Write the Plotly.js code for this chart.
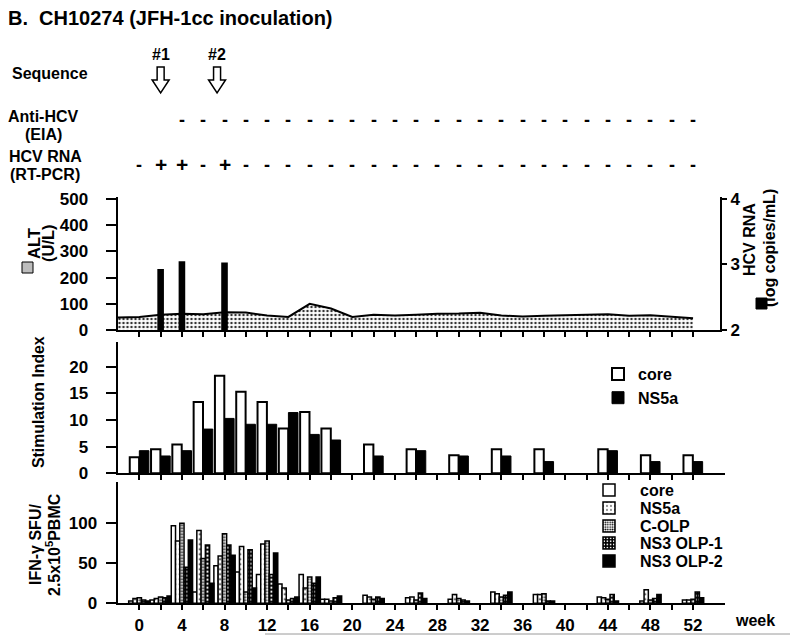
<!DOCTYPE html>
<html><head><meta charset="utf-8">
<script src="https://cdn.plot.ly/plotly-3.0.1.min.js"></script>
<style>html,body{margin:0;padding:0;background:#fff}</style>
</head><body><div id="chart" style="width:790px;height:637px"></div>
<script>
// ---------- data ----------
const altWeeks  = [-2,0,2,4,6,8,10,12,14,16,18,20,22,24,26,28,30,32,34,36,38,40,42,44,46,48,50,52];
const altValues = [48,50,58,62,60,68,67,55,50,100,82,50,58,55,58,62,63,66,55,52,54,57,58,60,54,56,50,45];
const rnaWeeks  = [2,4,8];
const rnaValues = [2.93,3.05,3.03];

const siWeeks  = [0,2,4,6,8,10,12,14,16,18,22,26,30,34,38,44,48,52];
const siCore   = [3.0,4.5,5.4,13.4,18.3,15.3,13.4,8.4,11.5,8.4,5.4,4.5,3.4,4.5,4.5,4.5,3.4,3.4];
const siNS5a   = [4.25,3.25,4.25,8.3,10.3,9.2,9.2,11.4,7.3,6.25,3.25,4.25,3.25,3.25,2.2,4.25,2.2,2.2];

const ifnWeeks = [0,2,4,6,8,10,12,14,16,18,22,26,30,34,38,44,48,52];
const ifnCore  = [3,4,97,14,47,39,36,24,36,5,10,7,5,14,11,8,3,4];
const ifnNS5a  = [6,6,78,91,59,71,74,19,19,5,8,8,11,12,11,7,17,4];
const ifnCOLP  = [7,8,100,56,87,14,78,4,33,3,5,4,6,8,12,5,4,5];
const ifnOLP1  = [4,7,45,73,73,67,36,6,25,7,8,13,4,10,3,11,6,14];
const ifnOLP2  = [3,9,79,25,60,19,63,8,33,9,6,6,3,14,3,3,11,7];

const seqWeeks  = [2,7.3];
const seqLabels = ['#1','#2'];
const antiWeeks  = [4,6,8,10,12,14,16,18,20,22,24,26,28,30,32,34,36,38,40,42,44,46,48,50,52];
const antiResult = ['-','-','-','-','-','-','-','-','-','-','-','-','-','-','-','-','-','-','-','-','-','-','-','-','-'];
const pcrWeeks  = [0,2,4,6,8,10,12,14,16,18,20,22,24,26,28,30,32,34,36,38,40,42,44,46,48,50,52];
const pcrResult = ['-','+','+','-','+','-','-','-','-','-','-','-','-','-','-','-','-','-','-','-','-','-','-','-','-','-','-'];

const tickWeeks  = [0,2,4,6,8,10,12,14,16,18,20,22,24,26,28,30,32,34,36,38,40,42,44,46,48,50,52];
const labelWeeks = [0,4,8,12,16,20,24,28,32,36,40,44,48,52];
const labelText  = ['0','4','8','12','16','20','24','28','32','36','40','44','48','52'];

// ---------- helpers ----------
const W = 790, H = 637;
const px = x => x / W;
const py = y => 1 - y / H;
const FAM = 'Liberation Sans, Arial, Helvetica, sans-serif';
const B = s => ({family: FAM, size: s, color: '#000', weight: 'bold'});

const traces = [
  {type:'scatter', x: altWeeks, y: altValues, xaxis:'x', yaxis:'y', mode:'lines',
   line:{color:'#000', width:2}, fill:'tozeroy',
   fillpattern:{shape:'.', fgcolor:'#333', bgcolor:'#fff', size:4, solidity:0.3},
   showlegend:false, hoverinfo:'skip'},
  {type:'bar', x: rnaWeeks, y: rnaValues, xaxis:'x', yaxis:'y2', width:0.62,
   marker:{color:'#000', line:{width:0}}, showlegend:false},

  {type:'bar', name:'core', x: siWeeks, y: siCore, xaxis:'x2', yaxis:'y3', width:0.88, offset:-0.9,
   marker:{color:'#fff', line:{color:'#000', width:2}}, legend:'legend'},
  {type:'bar', name:'NS5a', x: siWeeks, y: siNS5a, xaxis:'x2', yaxis:'y3', width:0.9, offset:0,
   marker:{color:'#000', line:{color:'#000', width:1}}, legend:'legend'},

  {type:'bar', name:'core', x: ifnWeeks, y: ifnCore, xaxis:'x3', yaxis:'y4', width:0.4, offset:-1.0,
   marker:{color:'#fff', line:{color:'#000', width:1.5}}, legend:'legend2'},
  {type:'bar', name:'NS5a', x: ifnWeeks, y: ifnNS5a, xaxis:'x3', yaxis:'y4', width:0.4, offset:-0.6,
   marker:{color:'#fff', line:{color:'#000', width:1.5},
           pattern:{shape:'.', fgcolor:'#000', bgcolor:'#fff', size:5, solidity:0.12}}, legend:'legend3'},
  {type:'bar', name:'C-OLP', x: ifnWeeks, y: ifnCOLP, xaxis:'x3', yaxis:'y4', width:0.4, offset:-0.2,
   marker:{color:'#fff', line:{color:'#000', width:1.5},
           pattern:{shape:'.', fgcolor:'#000', bgcolor:'#fff', size:3, solidity:0.4}}, legend:'legend4'},
  {type:'bar', name:'NS3 OLP-1', x: ifnWeeks, y: ifnOLP1, xaxis:'x3', yaxis:'y4', width:0.4, offset:0.2,
   marker:{color:'#000', line:{color:'#000', width:1.5},
           pattern:{shape:'.', fgcolor:'#fff', bgcolor:'#000', size:4, solidity:0.25}}, legend:'legend5'},
  {type:'bar', name:'NS3 OLP-2', x: ifnWeeks, y: ifnOLP2, xaxis:'x3', yaxis:'y4', width:0.4, offset:0.6,
   marker:{color:'#000', line:{color:'#000', width:1.5}}, legend:'legend6'}
];

const xCommon = {showline:true, linewidth:2, linecolor:'#000', ticks:'outside', ticklen:5, tickwidth:2,
  tickcolor:'#000', showgrid:false, zeroline:false, fixedrange:true};
const yCommon = {showline:true, linewidth:2, linecolor:'#000', ticks:'outside', ticklen:10, tickwidth:2,
  tickcolor:'#000', showgrid:false, zeroline:false, tickfont:B(17), automargin:false};

const ann = [];
const T = (x, y, text, size, extra) => Object.assign({xref:'paper', yref:'paper', x:px(x), y:py(y),
  text:text, showarrow:false, font:B(size), xanchor:'center', yanchor:'middle'}, extra || {});

ann.push(T(10, 74, 'Sequence', 16, {xanchor:'left'}));
ann.push(T(43, 117, 'Anti-HCV', 16));
ann.push(T(43, 134, '(EIA)', 16));
ann.push(T(45, 157, 'HCV RNA', 16));
ann.push(T(45, 174, '(RT-PCR)', 16));
seqWeeks.forEach((w, i) => {
  ann.push({xref:'x', yref:'paper', x:w, y:py(54), text:seqLabels[i], showarrow:false, font:B(16), yanchor:'middle'});
});
antiWeeks.forEach((w, i) => ann.push({xref:'x', yref:'paper', x:w, y:py(120), text:antiResult[i],
  showarrow:false, font:B(18), yanchor:'middle'}));
pcrWeeks.forEach((w, i) => ann.push({xref:'x', yref:'paper', x:w, y:py(pcrResult[i] === '+' ? 164 : 165),
  text:pcrResult[i], showarrow:false, font:B(pcrResult[i] === '+' ? 21 : 18), yanchor:'middle'}));

ann.push(T(34, 244, 'ALT', 16.5, {textangle:-90}));
ann.push(T(48, 243, '(U/L)', 16.5, {textangle:-90}));
ann.push(T(749, 240, 'HCV RNA', 16, {textangle:-90}));
ann.push(T(769, 248, '(log copies/mL)', 16, {textangle:-90}));
ann.push(T(38, 402, 'Stimulation Index', 15.8, {textangle:-90}));
ann.push(T(35, 545, 'IFN-\u03B3 SFU/', 16, {textangle:-90}));
ann.push(T(53, 545, '2.5x10<sup>5</sup>PBMC', 16, {textangle:-90}));
ann.push(T(755, 620, 'week', 16));

const shapes = [
  {type:'rect', xref:'paper', yref:'paper', x0:px(22), x1:px(33), y0:py(262), y1:py(273),
   fillcolor:'#bdbdbd', line:{color:'#000', width:1}},
  {type:'rect', xref:'paper', yref:'paper', x0:px(756), x1:px(767), y0:py(298), y1:py(309),
   fillcolor:'#000', line:{color:'#000', width:1}},
  {type:'line', xref:'paper', yref:'paper', x0:px(265), x1:1, y0:py(634), y1:py(634),
   line:{color:'#9a9a9a', width:1}}
];
// hollow block arrows marking the sequencing time points
seqWeeks.forEach(w => shapes.push({type:'path', xref:'x', yref:'paper', xsizemode:'pixel', ysizemode:'pixel',
  xanchor:w, yanchor:py(80), path:'M-3.5,13L3.5,13L3.5,0L8.5,0L0,-13L-8.5,0L-3.5,0Z',
  fillcolor:'#fff', line:{color:'#000', width:1.5}}));

const legBase = {bgcolor:'rgba(0,0,0,0)', borderwidth:0, font:B(16), xanchor:'left', yanchor:'middle'};
const ifnLeg = y => Object.assign({}, legBase, {x:px(578), y:py(y), itemwidth:52});

const layout = {
  width:W, height:H, margin:{l:0, r:0, t:0, b:0}, paper_bgcolor:'#fff', plot_bgcolor:'rgba(0,0,0,0)',
  font:{family:FAM, color:'#000'},
  title:{text:'B.\u00a0 CH10274 (JFH-1cc inoculation)', x:px(8), xanchor:'left', y:py(18), yanchor:'middle', font:B(20)},
  barmode:'overlay',
  xaxis:  Object.assign({}, xCommon, {domain:[px(117.5), px(720)], range:[-2.05, 54.53], anchor:'y',
           tickvals: tickWeeks, showticklabels:false}),
  xaxis2: Object.assign({}, xCommon, {domain:[px(117.5), px(725)], range:[-2.05, 55.0], anchor:'y3',
           tickvals: tickWeeks, showticklabels:false}),
  xaxis3: Object.assign({}, xCommon, {domain:[px(117.5), px(725)], range:[-2.05, 55.0], anchor:'y4',
           tickvals: labelWeeks, ticktext: labelText, tickfont:B(17),
           minor:{tickvals: tickWeeks, ticks:'outside', ticklen:5, tickwidth:2, tickcolor:'#000', showgrid:false}}),
  yaxis:  Object.assign({}, yCommon, {domain:[py(330), py(197)], range:[0, 507.6], anchor:'x',
           tickvals:[0,100,200,300,400,500], ticklabelstandoff:14}),
  yaxis2: Object.assign({}, yCommon, {overlaying:'y', side:'right', anchor:'x', range:[2, 4.03],
           tickvals:[2,3,4], ticklen:5, ticklabelstandoff:0}),
  yaxis3: Object.assign({}, yCommon, {domain:[py(473.3), py(341.7)], range:[0, 24.7], anchor:'x2',
           tickvals:[0,5,10,15,20], ticklabelstandoff:14}),
  yaxis4: Object.assign({}, yCommon, {domain:[py(603.3), py(481.7)], range:[0, 152], anchor:'x3',
           tickvals:[0,50,100], ticklabelstandoff:5}),
  legend: Object.assign({}, legBase, {x:px(598), y:py(386)}),
  legend2: ifnLeg(490),
  legend3: ifnLeg(508),
  legend4: ifnLeg(526),
  legend5: ifnLeg(543),
  legend6: ifnLeg(561),
  annotations: ann,
  shapes: shapes,
  showlegend:true
};

Plotly.newPlot('chart', traces, layout, {staticPlot:true, displayModeBar:false});
</script></body></html>
